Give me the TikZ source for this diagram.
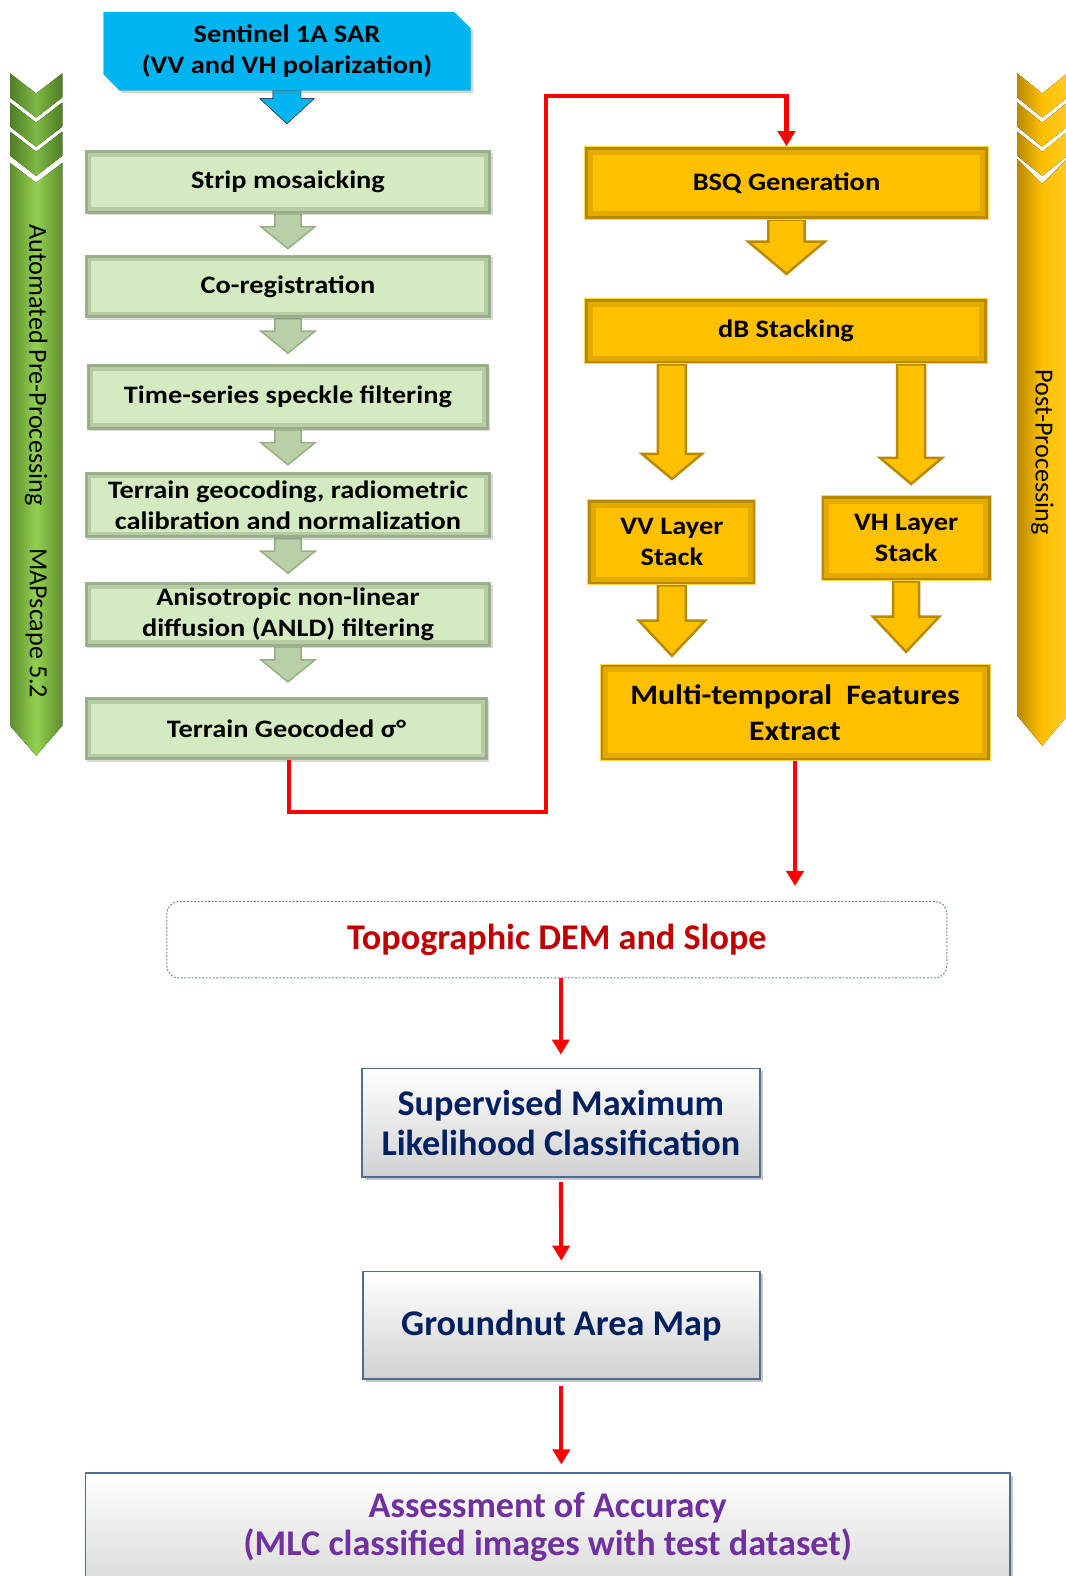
\documentclass[tikz,border=0pt]{standalone}
\usepackage{fontspec}
\setmainfont{Carlito}
\newfontfamily\widefont[FakeStretch=1.13]{Carlito}
\usetikzlibrary{shapes.misc,shadows,arrows.meta,backgrounds}

\definecolor{skyblue}{HTML}{00B4F0}
\definecolor{greenfill}{HTML}{D4EBC2}
\definecolor{greenrim}{HTML}{869E76}
\definecolor{bandgreen}{HTML}{92D050}
\definecolor{banddark}{HTML}{5E8F2E}
\definecolor{chevgreen}{HTML}{7DB844}
\definecolor{chevdark}{HTML}{4E7F24}
\definecolor{goldfill}{HTML}{FFC000}
\definecolor{goldrim}{HTML}{B88A00}
\definecolor{goldedge}{HTML}{FFD54F}
\definecolor{textnavy}{HTML}{002060}
\definecolor{demred}{HTML}{C00000}
\definecolor{accpurple}{HTML}{7030A0}
\definecolor{steel}{HTML}{4F6D8F}

% block arrow: [style]{start}{length}{stem half}{head half}{head length}
\newcommand{\blkarrow}[6][]{%
  \filldraw[#1] (#2) ++(-#4,0) -- ++(0,{#3-#6}) -- ++({#4-#5},0) -- ++(#5,#6)
    -- ++(#5,-#6) -- ++({#4-#5},0) -- ++(0,{#6-#3}) -- cycle;}

\tikzset{
  topfont/.style={font=\widefont\bfseries\fontsize{25}{31}\selectfont},
  bluebox/.style={chamfered rectangle, chamfered rectangle corners={north east,south west},
    chamfered rectangle xsep=13pt, fill=skyblue, draw=skyblue, align=center, topfont,
    minimum width=365pt, minimum height=78pt,
    drop shadow={shadow xshift=3pt,shadow yshift=-3pt,opacity=0.35}},
  greenbox/.style={fill=greenfill, draw=greenrim!70!greenfill, line width=0.8pt, align=center, topfont,
    minimum width=403pt, minimum height=62pt,
    drop shadow={shadow xshift=2pt,shadow yshift=-2pt,opacity=0.3},
    path picture={\draw[greenrim!40!greenfill,line width=12pt]
      (path picture bounding box.south west) rectangle (path picture bounding box.north east);
      \draw[greenrim!80!greenfill,line width=5pt]
      (path picture bounding box.south west) rectangle (path picture bounding box.north east);}},
  goldbox/.style={fill=goldfill, draw=goldedge, line width=1pt, align=center, topfont,
    path picture={\draw[goldrim!40!goldfill,line width=16pt]
      (path picture bounding box.south west) rectangle (path picture bounding box.north east);
      \draw[goldrim,line width=6pt]
      (path picture bounding box.south west) rectangle (path picture bounding box.north east);}},
  whitebox/.style={top color=white, bottom color=black!18, draw=steel, line width=1.5pt,
    align=center, text=textnavy, font=\bfseries\fontsize{36}{40}\selectfont,
    drop shadow={shadow xshift=3pt,shadow yshift=-3pt,opacity=0.45}},
  dembox/.style={draw=steel!80, line width=1pt, dash pattern=on 2pt off 1.5pt,
    rounded corners=12pt, text=demred, font=\bfseries\fontsize{36}{40}\selectfont,
    minimum width=776pt, minimum height=76pt},
  greenarrow/.style={fill=greenfill!65!greenrim, draw=greenrim!80!greenfill, line width=1.5pt},
  goldarrow/.style={fill=goldfill, draw=goldrim, line width=2.5pt},
  bluearrow/.style={fill=skyblue},
  greenband/.style={left color=banddark, right color=banddark, middle color=bandgreen},
  greenchev/.style={left color=chevdark, right color=chevdark, middle color=chevgreen},
  goldband/.style={left color=goldrim, right color=goldfill!85!white, middle color=goldfill},
  bandtext/.style={rotate=-90, font=\fontsize{26}{30}\selectfont},
  redarrow/.style={draw=red, line width=4pt, -{Triangle[length=15pt,width=17pt]}}
}

\begin{document}
\begin{tikzpicture}[x=1pt,y=-1pt]
\useasboundingbox (0,0) rectangle (1060,1568);
% side bands
\fill[greenband] (10,162) -- (36,182) -- (62,162) -- (62,722) -- (36,752) -- (10,722) -- cycle;
\foreach \y in {73,102,131}
  \fill[greenchev] (10,\y) -- (36,\y+20) -- (62,\y) -- (62,\y+24) -- (36,\y+44) -- (10,\y+24) -- cycle;
\node[bandtext] (autolbl) at (36,363) {Automated Pre-Processing};
\node[bandtext] (maplbl) at (36,620) {MAPscape 5.2};
\fill[goldband] (1012,158) -- (1037,183) -- (1062,158) -- (1062,712) -- (1037,742) -- (1012,712) -- cycle;
\foreach \y in {73,102,131}
  \fill[goldband] (1012,\y) -- (1037,\y+20) -- (1062,\y) -- (1062,\y+24) -- (1037,\y+44) -- (1012,\y+24) -- cycle;
\node[bandtext] (postlbl) at (1037,450) {Post-Processing};

% pre-processing column
\node[bluebox] (sent) at (285.5,51) {Sentinel 1A SAR\\(VV and VH polarization)};
\node[greenbox] (strip) at (286.5,181) {Strip mosaicking};
\node[greenbox] (coreg) at (286.5,285) {Co-registration};
\node[greenbox, minimum width=399pt, minimum height=64pt] (speckle) at (286.5,395) {Time-series speckle filtering};
\node[greenbox, minimum height=65pt] (geocod) at (286.5,502.5) {Terrain geocoding, radiometric\\calibration and normalization};
\node[greenbox, minimum height=63pt] (anld) at (286.5,611.5) {Anisotropic non-linear\\diffusion (ANLD) filtering};
\node[greenbox, minimum width=400pt] (sigma) at (285,725) {Terrain Geocoded σ°};

% post-processing column
\node[goldbox, minimum width=401pt, minimum height=72pt] (bsq) at (782.5,182) {BSQ Generation};
\node[goldbox, minimum width=400pt, minimum height=65pt] (dbstack) at (782,329.5) {dB Stacking};
\node[goldbox, minimum width=167pt, minimum height=85pt] (vvstack) at (668.5,539.5) {VV Layer\\Stack};
\node[goldbox, minimum width=169pt, minimum height=85pt] (vhstack) at (901.5,535.5) {VH Layer\\Stack};
\node[goldbox, minimum width=388pt, minimum height=96pt,
  font=\widefont\bfseries\fontsize{28}{36}\selectfont] (multi) at (791,709) {Multi-temporal\ \ Features\\Extract};

% classification
\node[dembox] (dem) at (554,935) {Topographic DEM and Slope};
\node[whitebox, minimum width=396pt, minimum height=108pt] (sml) at (558,1117) {Supervised Maximum\\Likelihood Classification};
\node[whitebox, minimum width=395pt, minimum height=107pt] (gmap) at (558.5,1318.5) {Groundnut Area Map};
\node[whitebox, minimum width=920pt, minimum height=140pt, anchor=north] (assess) at (545,1465) {};
\node[text=accpurple, align=center, font=\bfseries\fontsize{36}{38}\selectfont] (assesstxt) at (545,1519)
  {Assessment of Accuracy\\(MLC classified images with test dataset)};

\begin{scope}[on background layer]
\blkarrow[bluearrow]{sent.south}{33}{14}{27}{25}
\foreach \a in {strip,coreg,speckle,geocod,anld}
  {\blkarrow[greenarrow]{\a.south}{35}{13}{27}{22}}
\blkarrow[goldarrow]{bsq.south}{54}{18}{38}{32}
\blkarrow[goldarrow]{vvstack.north |- dbstack.south}{114}{14}{30}{25}
\blkarrow[goldarrow]{[xshift=5pt]vhstack.north |- dbstack.south}{119}{14}{31}{26}
\blkarrow[goldarrow]{vvstack.south}{70}{14}{33}{35}
\blkarrow[goldarrow]{vhstack.south}{70}{13}{33}{35}
\end{scope}

% red connectors
\draw[redarrow] ([xshift=3pt]sigma.south) |- (543,808) -- (543,96) -| (bsq.north);
\draw[redarrow, shorten >=15pt] (multi.south) -- (multi.south |- dem.north);
\draw[redarrow, shorten >=13pt] (sml.north |- dem.south) -- (sml.north);
\draw[redarrow, shorten <=4pt, shorten >=10pt] (sml.south) -- (gmap.north);
\draw[redarrow, shorten <=6pt, shorten >=8pt] (gmap.south) -- (gmap.south |- assess.north);
\end{tikzpicture}
\end{document}
